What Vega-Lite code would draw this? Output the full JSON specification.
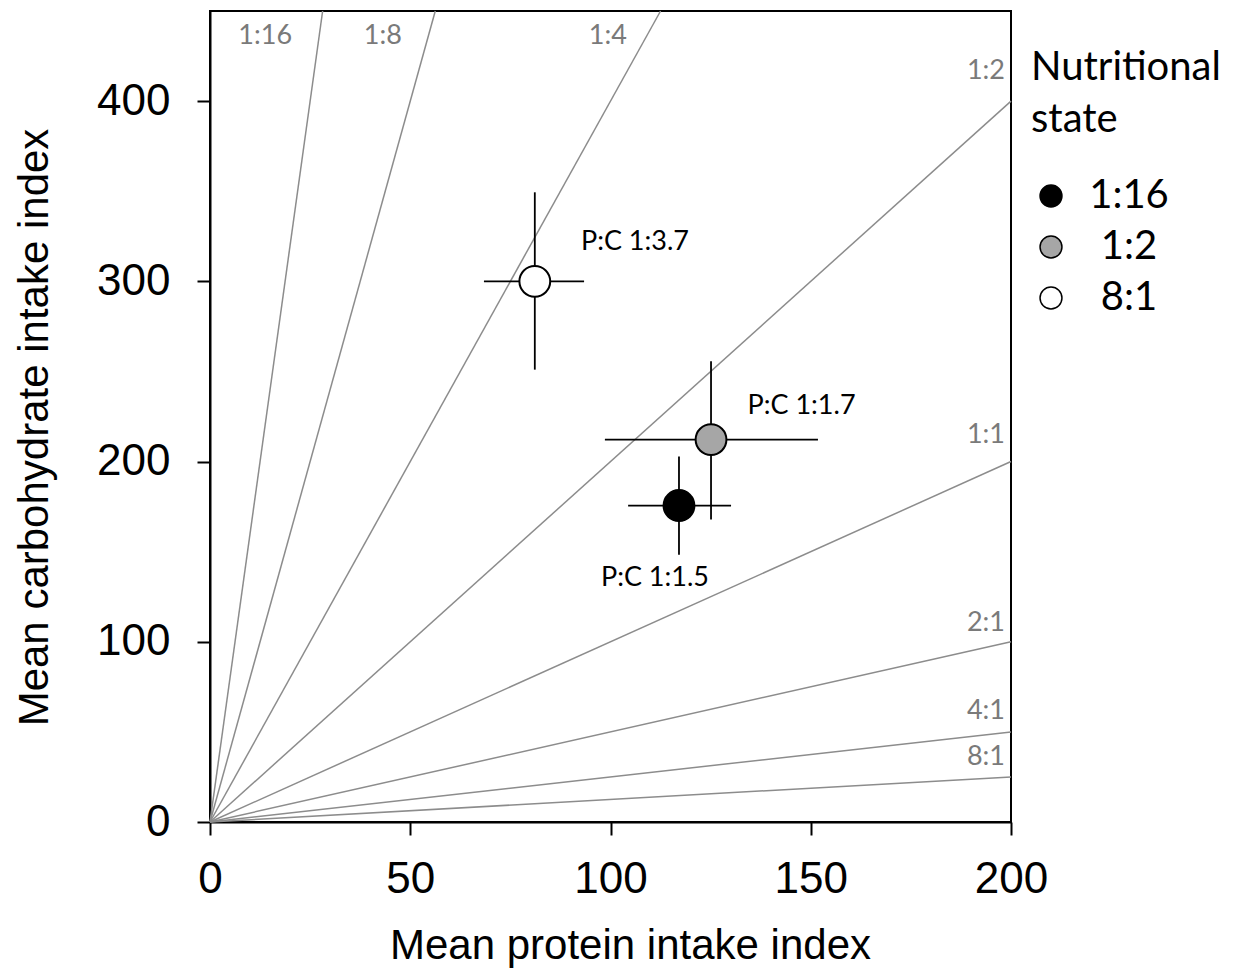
{
  "$schema": "https://vega.github.io/schema/vega-lite/v6.json",
  "autosize": {"type": "none"},
  "padding": {"left": 210, "top": 11, "right": 224, "bottom": 156},
  "width": 801,
  "height": 811,
  "background": "white",
  "config": {
    "view": {"stroke": "black", "strokeWidth": 2},
    "axis": {
      "grid": false,
      "domainColor": "black",
      "domainWidth": 2,
      "tickColor": "black",
      "tickWidth": 2,
      "tickSize": 13,
      "labelFont": "Liberation Sans",
      "labelFontSize": 44,
      "labelColor": "black",
      "labelFlush": false,
      "labelOverlap": false,
      "titleFont": "Liberation Sans",
      "titleFontSize": 42,
      "titleFontWeight": "normal",
      "titleColor": "black"
    }
  },
  "datasets": {
    "ratios": [
      {"ratio": "1:16", "x0": 0, "y0": 0, "x1": 28.125, "y1": 450, "lx": 20.5, "ly": 436},
      {"ratio": "1:8", "x0": 0, "y0": 0, "x1": 56.25, "y1": 450, "lx": 47.9, "ly": 436},
      {"ratio": "1:4", "x0": 0, "y0": 0, "x1": 112.5, "y1": 450, "lx": 104.1, "ly": 436},
      {"ratio": "1:2", "x0": 0, "y0": 0, "x1": 200, "y1": 400, "lx": 198.5, "ly": 416.5},
      {"ratio": "1:1", "x0": 0, "y0": 0, "x1": 200, "y1": 200, "lx": 198.5, "ly": 214.5},
      {"ratio": "2:1", "x0": 0, "y0": 0, "x1": 200, "y1": 100, "lx": 198.5, "ly": 110.5},
      {"ratio": "4:1", "x0": 0, "y0": 0, "x1": 200, "y1": 50, "lx": 198.5, "ly": 61.5},
      {"ratio": "8:1", "x0": 0, "y0": 0, "x1": 200, "y1": 25, "lx": 198.5, "ly": 36}
    ],
    "means": [
      {"state": "1:16", "protein": 117.1, "carb": 175.6, "plo": 104.4, "phi": 130.1, "clo": 148.3, "chi": 202.8, "label": "P:C 1:1.5", "tx": 111.1, "ty": 135.6},
      {"state": "1:2", "protein": 125.1, "carb": 212.2, "plo": 98.6, "phi": 151.8, "clo": 167.8, "chi": 255.6, "label": "P:C 1:1.7", "tx": 147.7, "ty": 230.6},
      {"state": "8:1", "protein": 81.1, "carb": 300.0, "plo": 68.4, "phi": 93.4, "clo": 251.0, "chi": 349.4, "label": "P:C 1:3.7", "tx": 106.1, "ty": 322}
    ]
  },
  "layer": [
    {
      "data": {"name": "ratios"},
      "mark": {"type": "rule", "color": "#8c8c8c", "strokeWidth": 1.5},
      "encoding": {
        "x": {"field": "x0", "type": "quantitative", "scale": {"domain": [0, 200], "nice": false}, "axis": {"values": [0, 50, 100, 150, 200], "title": "Mean protein intake index", "labelPadding": 22, "titlePadding": 24, "titleX": 420}},
        "y": {"field": "y0", "type": "quantitative", "scale": {"domain": [0, 450], "nice": false}, "axis": {"values": [0, 100, 200, 300, 400], "title": "Mean carbohydrate intake index", "labelPadding": 27, "titlePadding": 40, "titleY": 416}},
        "x2": {"field": "x1"},
        "y2": {"field": "y1"}
      }
    },
    {
      "data": {"name": "ratios"},
      "mark": {"type": "text", "font": "Lato", "fontSize": 27, "color": "#7a7a7a", "baseline": "middle", "align": "right"},
      "encoding": {
        "x": {"field": "lx", "type": "quantitative"},
        "y": {"field": "ly", "type": "quantitative"},
        "text": {"field": "ratio"}
      }
    },
    {
      "data": {"name": "means"},
      "mark": {"type": "rule", "color": "black", "strokeWidth": 1.8},
      "encoding": {
        "x": {"field": "plo", "type": "quantitative"},
        "x2": {"field": "phi"},
        "y": {"field": "carb", "type": "quantitative"}
      }
    },
    {
      "data": {"name": "means"},
      "mark": {"type": "rule", "color": "black", "strokeWidth": 1.8},
      "encoding": {
        "y": {"field": "clo", "type": "quantitative"},
        "y2": {"field": "chi"},
        "x": {"field": "protein", "type": "quantitative"}
      }
    },
    {
      "data": {"name": "means"},
      "mark": {"type": "point", "shape": "circle", "filled": true, "stroke": "black", "strokeWidth": 2, "size": 950, "opacity": 1},
      "encoding": {
        "x": {"field": "protein", "type": "quantitative"},
        "y": {"field": "carb", "type": "quantitative"},
        "fill": {
          "field": "state",
          "type": "nominal",
          "scale": {"domain": ["1:16", "1:2", "8:1"], "range": ["black", "#a6a6a6", "white"]},
          "legend": {
            "title": ["Nutritional", "state"],
            "orient": "none",
            "legendX": 821,
            "legendY": 37,
            "titleFont": "Lato",
            "titleFontSize": 40,
            "titleFontWeight": "normal",
            "titleColor": "black",
            "titleAlign": "left",
            "titleAnchor": "start",
            "titleLimit": 400,
            "titleLineHeight": 52,
            "titlePadding": 36,
            "labelFont": "Lato",
            "labelFontSize": 40,
            "labelColor": "black",
            "labelAlign": "center",
            "labelOffset": 58,
            "symbolSize": 480,
            "symbolType": "circle",
            "symbolStrokeColor": "black",
            "symbolStrokeWidth": 1.5,
            "rowPadding": 11
          }
        }
      }
    },
    {
      "data": {"name": "means"},
      "mark": {"type": "text", "font": "Lato", "fontSize": 27, "color": "black", "baseline": "middle", "align": "center"},
      "encoding": {
        "x": {"field": "tx", "type": "quantitative"},
        "y": {"field": "ty", "type": "quantitative"},
        "text": {"field": "label"}
      }
    }
  ]
}
